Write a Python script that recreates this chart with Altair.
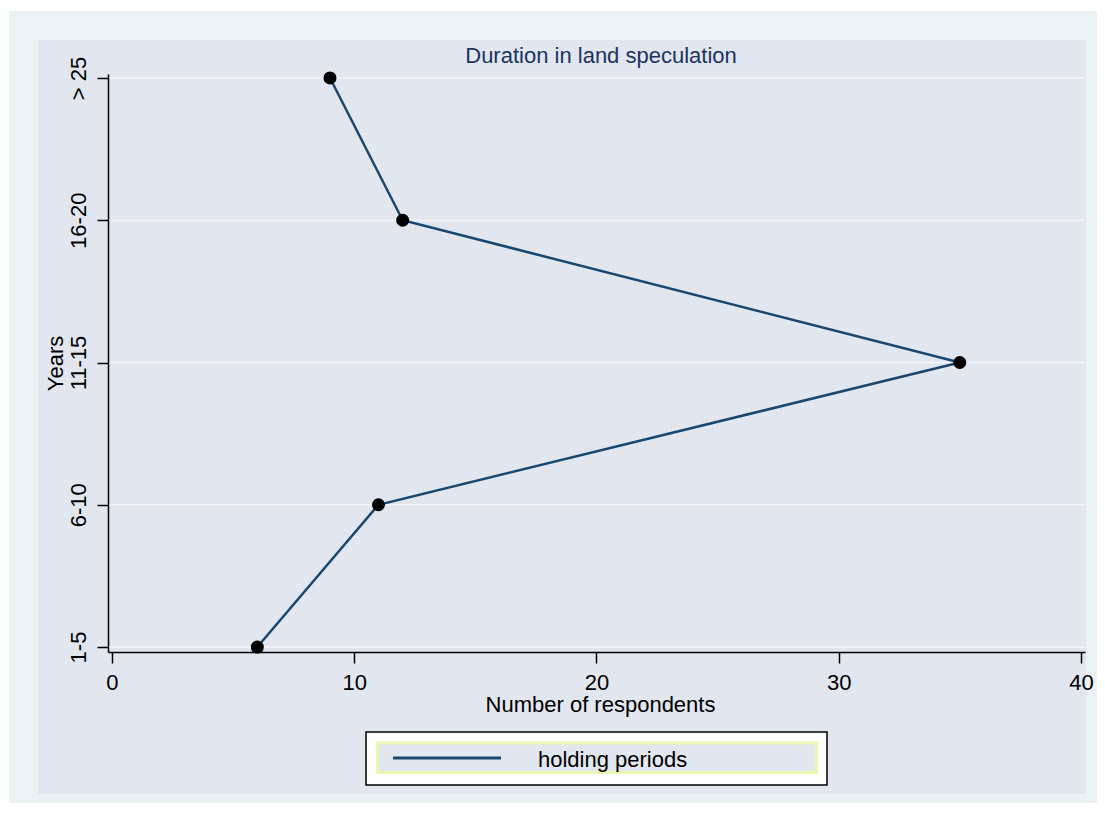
import altair as alt
import pandas as pd

# ---- data ----
categories = ["1-5", "6-10", "11-15", "16-20", "> 25"]
respondents = [6, 11, 35, 12, 9]
x_ticks = [0, 10, 20, 30, 40]
title_text = "Duration in land speculation"
x_title = "Number of respondents"
y_title = "Years"
legend_label = "holding periods"

FONT = "Liberation Sans"
OUTER = "#eaf2f3"
INNER = "#e1e6ef"
NAVY = "#1a476f"
TITLE_COLOR = "#1c3461"

W, H = 977, 578

df = pd.DataFrame({
    "years": categories,
    "pos": list(range(1, len(categories) + 1)),
    "respondents": respondents,
})
one = pd.DataFrame({"k": [0]})

label_expr = "[" + ",".join("'" + c + "'" for c in categories) + "][datum.value - 1]"

xscale = alt.Scale(domain=[-0.165, 40.17], nice=False, zero=False)
yscale = alt.Scale(domain=[0.965, 5.028], nice=False, zero=False)

xaxis = alt.Axis(
    values=x_ticks, format="d", grid=False, labelFlush=False, labelOverlap=False,
    labelFont=FONT, labelFontSize=22, labelColor="black", labelPadding=9,
    tickSize=11, tickColor="black", tickWidth=1.5,
    domainColor="black", domainWidth=1.5,
    title=x_title, titleFont=FONT, titleFontSize=22, titleFontWeight="normal",
    titleColor="black", titleBaseline="alphabetic", titleY=59, titleX=492,
    zindex=1,
)
yaxis = alt.Axis(
    values=list(range(1, len(categories) + 1)), labelExpr=label_expr,
    grid=False, labelFlush=False, labelOverlap=False,
    labelAngle=270, labelAlign="center", labelBaseline="alphabetic",
    labelFont=FONT, labelFontSize=22, labelColor="black", labelPadding=12,
    tickSize=11, tickColor="black", tickWidth=1.5,
    domainColor="black", domainWidth=1.5,
    title=y_title, titleFont=FONT, titleFontSize=22, titleFontWeight="normal",
    titleColor="black", titleAngle=270, titleBaseline="alphabetic",
    titleAlign="center", titleX=-46, titleY=H / 2,
    zindex=1,
)

outer = alt.Chart(one).mark_rect(fill=OUTER).encode(
    x=alt.value(-99), x2=alt.value(989), y=alt.value(-63), y2=alt.value(729))
inner = alt.Chart(one).mark_rect(fill=INNER).encode(
    x=alt.value(-70), x2=alt.value(978), y=alt.value(-34), y2=alt.value(720))

grid = alt.Chart(df).mark_rule(color="#f3f6fa", strokeWidth=1.5).encode(
    y=alt.Y("pos:Q", scale=yscale, axis=yaxis),
    x=alt.value(0), x2=alt.value(W))

line = alt.Chart(df).mark_line(color=NAVY, strokeWidth=2.5).encode(
    x=alt.X("respondents:Q", scale=xscale, axis=xaxis),
    y=alt.Y("pos:Q", scale=yscale, axis=yaxis),
    order=alt.Order("pos:Q"),
)
points = alt.Chart(df).mark_circle(color="black", opacity=1, size=170).encode(
    x=alt.X("respondents:Q", scale=xscale, axis=xaxis),
    y=alt.Y("pos:Q", scale=yscale, axis=yaxis),
)

leg_outer = alt.Chart(one).mark_rect(fill="white", stroke="black", strokeWidth=1.5).encode(
    x=alt.value(258), x2=alt.value(719), y=alt.value(658), y2=alt.value(711))
leg_inner = alt.Chart(one).mark_rect(fill=INNER, stroke="#e9f7b0", strokeWidth=3).encode(
    x=alt.value(269.5), x2=alt.value(708.5), y=alt.value(669), y2=alt.value(698.5))
leg_line = alt.Chart(one).mark_rule(color=NAVY, strokeWidth=3).encode(
    x=alt.value(285), x2=alt.value(393), y=alt.value(684))
leg_text = alt.Chart(pd.DataFrame({"t": [legend_label]})).mark_text(
    font=FONT, fontSize=22, color="black", align="left", baseline="alphabetic").encode(
    text="t:N", x=alt.value(430), y=alt.value(693))

title = alt.Chart(pd.DataFrame({"t": [title_text]})).mark_text(
    font=FONT, fontSize=22, color=TITLE_COLOR, align="center", baseline="alphabetic").encode(
    text="t:N", x=alt.value(493), y=alt.value(-11))

chart = alt.layer(
    outer, inner, grid, line, points, leg_outer, leg_inner, leg_line, leg_text, title
).properties(
    width=W, height=H,
    autosize=alt.AutoSizeParams(type="none"),
    padding={"left": 100, "top": 66, "right": 12, "bottom": 151},
    background="white",
).configure_view(stroke="transparent")

chart.save("out.html", embed_options={"renderer": "svg", "actions": False})
